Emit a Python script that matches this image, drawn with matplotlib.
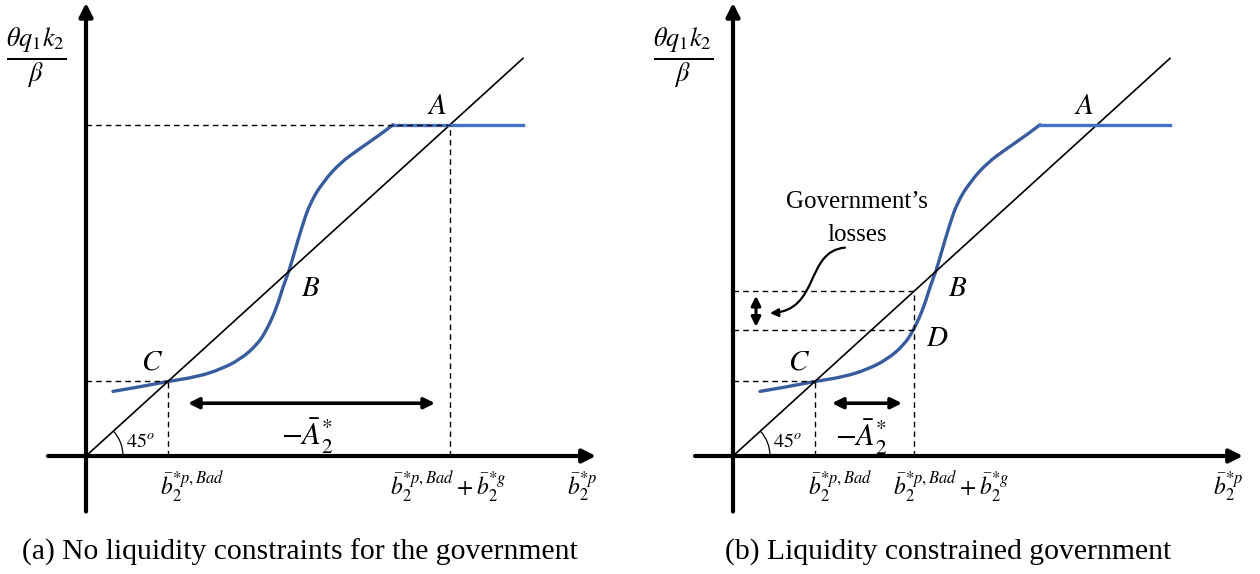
import matplotlib
matplotlib.use('Agg')
import matplotlib.pyplot as plt
from matplotlib.patches import Arc, FancyArrowPatch, PathPatch
from matplotlib.path import Path

plt.rcParams['font.family'] = ['Liberation Serif', 'DejaVu Serif']
plt.rcParams['mathtext.fontset'] = 'stix'

# S-shaped curve (diagram units, the 45 degree line is y = x)
curve_x = [27, 54, 82, 111, 134, 154, 171, 181, 191, 197, 203, 209, 216, 224, 237, 254, 274, 294, 307]
curve_y = [71, 76, 82, 87, 95, 106, 122, 139, 164, 186, 203, 226, 252, 278, 301, 322, 338, 353, 364]
flat_x = [307, 437]
flat_y = [364, 364]
diag = [0, 437]

# fixed points
A = 364
B = 203
C = 82
D_x, D_y = 181, 139

x_labels = [r'$\bar{b}_2^{*p,Bad}$', r'$\bar{b}_2^{*p,Bad}+\bar{b}_2^{*g}$', r'$\bar{b}_2^{*p}$']
captions = ['(a) No liquidity constraints for the government',
            '(b) Liquidity constrained government']

W, H = 1260, 574
PX_Y = 0.91  # vertical pixels per diagram unit
BLUE = '#385D9F'
BLUE_FLAT = '#4472C4'
dash = (0, (4, 3))

fig = plt.figure(figsize=(12.6, 5.74), dpi=100)


def make_ax(left_px, origin_x, origin_y=456):
    ax = fig.add_axes([left_px / W, 0, 630 / W, 1])
    ax.set_xlim(left_px - origin_x, left_px + 630 - origin_x)
    ax.set_ylim((origin_y - H) / PX_Y, origin_y / PX_Y)
    ax.axis('off')
    return ax


def arrow(ax, start, end, style='-|>', lw=3, ms=20):
    ax.annotate('', xy=end, xytext=start,
                arrowprops=dict(arrowstyle=style, lw=lw, color='k',
                                mutation_scale=ms, shrinkA=0, shrinkB=0))


def smooth_path(xs, ys):
    # quadratic bezier through midpoints, read points act as control points
    pts = list(zip(xs, ys))
    verts = [pts[0]]
    codes = [Path.MOVETO]
    for i in range(1, len(pts) - 1):
        mid = ((pts[i][0] + pts[i + 1][0]) / 2, (pts[i][1] + pts[i + 1][1]) / 2)
        if i == len(pts) - 2:
            mid = pts[-1]
        verts += [pts[i], mid]
        codes += [Path.CURVE3, Path.CURVE3]
    return Path(verts, codes)


def draw_common(ax):
    arrow(ax, (0, -61), (0, 498))
    arrow(ax, (-38, 0), (510, 0))
    ax.plot(diag, diag, color='k', lw=1.2)
    ax.add_patch(PathPatch(smooth_path(curve_x, curve_y), fill=False,
                           edgecolor=BLUE, lw=2.4, capstyle='round'))
    ax.plot(flat_x, flat_y, color=BLUE_FLAT, lw=2.4)
    # C guides
    ax.plot([0, C], [C, C], color='k', lw=1, ls=dash)
    ax.plot([C, C], [0, C], color='k', lw=1, ls=dash)
    ax.add_patch(Arc((0, 0), 74, 74 / PX_Y, theta1=0, theta2=45, color='k', lw=0.9))
    ax.text(40, 15, r'$45^o$', fontsize=14.5, va='center', ha='left')
    ax.text(-50, 437, r'$\frac{\theta q_1 k_2}{\beta}$', fontsize=27, ha='center', va='center')
    ax.text(351, 383, r'$A$', fontsize=21, ha='center', va='center')
    ax.text(225, 184, r'$B$', fontsize=21, ha='center', va='center')
    ax.text(66, 103, r'$C$', fontsize=21, ha='center', va='center')


# left panel
ax1 = make_ax(0, 86)
draw_common(ax1)
ax1.plot([0, A], [A, A], color='k', lw=1, ls=dash)
ax1.plot([A, A], [0, A], color='k', lw=1, ls=dash)
arrow(ax1, (102, 58), (349, 58), style='<|-|>', lw=2.6, ms=16)
ax1.text(221, 22, r'$-\bar{A}_2^{*}$', fontsize=22, ha='center', va='center')
ax1.text(74, -34, x_labels[0], fontsize=17, ha='left', va='center')
ax1.text(304, -34, x_labels[1], fontsize=17, ha='left', va='center')
ax1.text(481, -34, x_labels[2], fontsize=17, ha='left', va='center')

# right panel
ax2 = make_ax(630, 733)
draw_common(ax2)
ax2.plot([0, D_x], [D_x, D_x], color='k', lw=1, ls=dash)
ax2.plot([0, D_x], [D_y, D_y], color='k', lw=1, ls=dash)
ax2.plot([D_x, D_x], [0, D_x], color='k', lw=1, ls=dash)
ax2.text(204, 129, r'$D$', fontsize=21, ha='center', va='center')
arrow(ax2, (23, D_y + 3), (23, D_x - 5), style='<|-|>', lw=2.2, ms=14)
arrow(ax2, (99, 58), (169, 58), style='<|-|>', lw=2.6, ms=16)
ax2.text(128, 20, r'$-\bar{A}_2^{*}$', fontsize=22, ha='center', va='center')
ax2.text(75, -34, x_labels[0], fontsize=17, ha='left', va='center')
ax2.text(160, -34, x_labels[1], fontsize=17, ha='left', va='center')
ax2.text(480, -34, x_labels[2], fontsize=17, ha='left', va='center')
ax2.text(124, 279, "Government\u2019s", fontsize=18, ha='center', va='center')
ax2.text(124, 243, 'losses', fontsize=18, ha='center', va='center')
s_path = Path([(112, 229), (72, 225), (87, 160), (37, 157)],
              [Path.MOVETO, Path.CURVE4, Path.CURVE4, Path.CURVE4])
ax2.add_patch(FancyArrowPatch(path=s_path, arrowstyle='-|>', mutation_scale=12,
                              lw=1.6, color='k'))

fig.text(300 / W, 1 - 552 / H, captions[0], fontsize=21.3, ha='center', va='center')
fig.text(948 / W, 1 - 552 / H, captions[1], fontsize=21.3, ha='center', va='center')

fig.savefig('out.png', dpi=100)
